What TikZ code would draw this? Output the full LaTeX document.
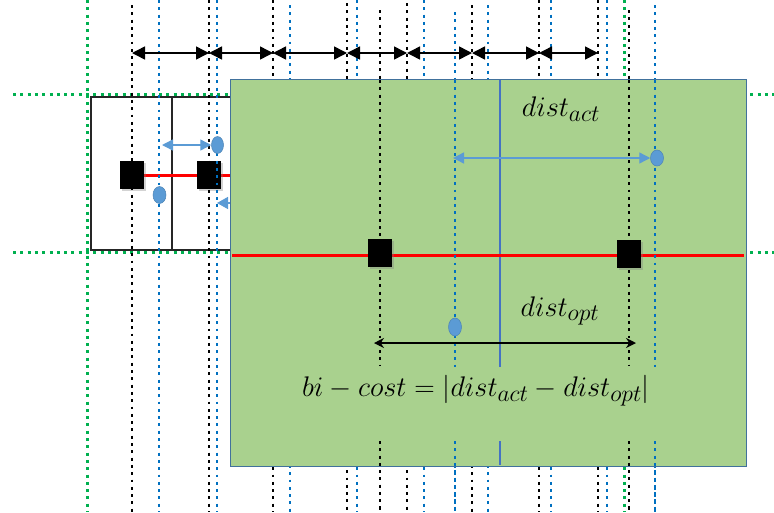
\documentclass[tikz,border=0pt]{standalone}
\usetikzlibrary{arrows.meta,shapes.geometric,shadows}
\definecolor{gfill}{HTML}{A9D18E}
\definecolor{gedge}{HTML}{41719C}
\definecolor{bdot}{HTML}{0070C0}
\definecolor{gdot}{HTML}{00B050}
\definecolor{barrow}{HTML}{5B9BD5}
\definecolor{vline}{HTML}{4472C4}
\definecolor{boxline}{HTML}{262626}
\tikzset{
  kdot/.style={line width=2.9pt, dash pattern=on 2.9pt off 4.4pt, black},
  bdotl/.style={line width=2.9pt, dash pattern=on 2.9pt off 4.4pt, bdot},
  gdotl/.style={line width=3pt, dash pattern=on 3pt off 4.3pt, gdot},
  sq/.style={rectangle, fill=black, minimum width=24pt, minimum height=28pt, inner sep=0pt,
     drop shadow={opacity=0.35, shadow xshift=1.5pt, shadow yshift=-1.5pt}},
  oval/.style={ellipse, fill=barrow, draw=barrow!85!black, line width=0.5pt, inner sep=0pt},
  topar/.style={line width=1.5pt, {Triangle[length=13pt,width=13pt]}-{Triangle[length=13pt,width=13pt]}},
  blar/.style={barrow, line width=1.4pt, {Triangle[length=11pt,width=11pt]}-{Triangle[length=11pt,width=11pt]}},
  blone/.style={barrow, line width=1.4pt, -{Triangle[length=11pt,width=12pt]}},
  optar/.style={line width=1.4pt, {Stealth[length=10pt,width=10pt]}-{Stealth[length=10pt,width=10pt]}},
  redl/.style={red, line width=3pt},
  lbl/.style={inner sep=0pt, font=\fontsize{24.88}{30}\selectfont},
}
\begin{document}
\begin{tikzpicture}[x=1pt,y=-1pt]
\useasboundingbox (0,0) rectangle (774,512);
% green horizontal dotted lines
\draw[gdotl] (13,94.5) -- (774,94.5);
\draw[gdotl] (13,252) -- (774,252);
% left two cells
\draw[boxline, line width=2.4pt] (91,97) rectangle (234,250);
\draw[boxline, line width=2.4pt] (172,97) -- (172,250);
% red line left
\draw[redl] (132,175.5) -- (232,175.5);
\node[sq] (s1) at (132,175) {};
\node[sq] (s2) at (209,175) {};
% blue arrow whose line lies behind the green box
\coordinate (bt) at (217,203);
\coordinate (bs) at (320,203);
\draw[blone] (bs) -- (bt);
% vertical dotted lines
\foreach \x/\y in {132/5,209/0,273/0,347/3,380/10,407/3,472/5,539/0,598/0,629/10}
  \draw[kdot] (\x,\y) -- (\x,512);
\foreach \x/\y in {159/0,217/0,290/5,357/0,424/0,455/12,488/5,551/0,607/0,655/5}
  \draw[bdotl] (\x,\y) -- (\x,512);
\foreach \x in {87.5,624}
  \draw[gdotl] (\x,0) -- (\x,512);
% ovals and arrow left
\node[oval, minimum width=13pt, minimum height=17pt] (o1) at (159.5,195) {};
\node[oval, minimum width=12pt, minimum height=17pt] (o2) at (217.5,145) {};
\coordinate (la) at (162,145);
\draw[blar] (la) -- (o2.west);
% top dimension arrows
\foreach \n/\x in {1/132,2/209,3/273,4/347,5/407,6/472,7/539,8/598}
  \coordinate (t\n) at (\x,53);
\foreach \a/\b in {1/2,2/3,3/4,4/5,5/6,6/7,7/8}
  \draw[topar] (t\a) -- (t\b);
% green box
\node[draw=gedge, fill=gfill, line width=1.4pt, anchor=north west, inner sep=0pt,
      minimum width=516pt, minimum height=387pt] (gbox) at (230,79) {};
% inner lines
\draw[vline, line width=1.3pt] (500,80) -- (500,367);
\draw[vline, line width=1.3pt] (500,441) -- (500,465);
\draw[redl] (232,255) -- (744,255);
\foreach \x in {380,629}{
  \draw[kdot] (\x,80) -- (\x,366);
  \draw[kdot] (\x,441) -- (\x,512);}
\foreach \x in {455,655}{
  \draw[bdotl] (\x,80) -- (\x,367);
  \draw[bdotl] (\x,441) -- (\x,512);}
\node[sq] (s3) at (380,253) {};
\node[sq] (s4) at (629,254) {};
% blue arrow in box
\node[oval, minimum width=13pt, minimum height=16pt] (o3) at (657,158) {};
\coordinate (ia) at (453,158);
\draw[blar] (ia) -- (o3.west);
\node[oval, minimum width=13pt, minimum height=18pt] (o4) at (455,327) {};
% dist_opt arrow
\coordinate (oa) at (374,343);
\coordinate (ob) at (636,343);
\draw[optar] (oa) -- (ob);
% labels
\node[lbl] (dact) at (561,109) {\scalebox{1.14}{$dist_{act}$}};
\node[lbl] (dopt) at (560,311) {\scalebox{1.14}{$dist_{opt}$}};
\node[lbl] (form) at (476,391) {\scalebox{1.14}{$bi-cost=|dist_{act}-dist_{opt}|$}};
\end{tikzpicture}
\end{document}
